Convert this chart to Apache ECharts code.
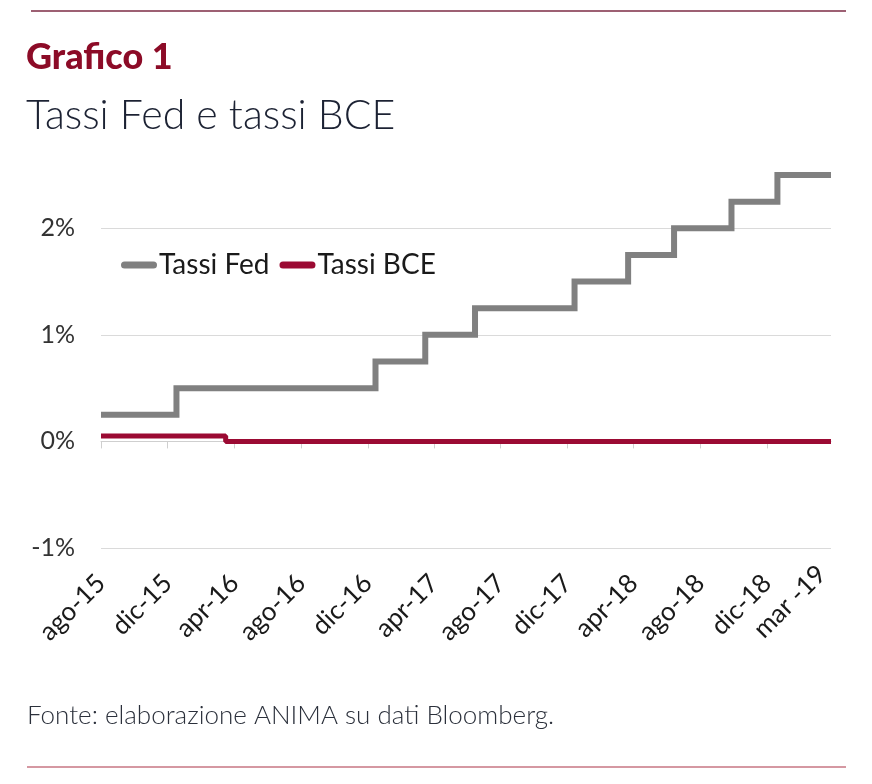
<!DOCTYPE html>
<html>
<head>
<meta charset="utf-8">
<script src="https://cdn.jsdelivr.net/npm/echarts@6/dist/echarts.min.js"></script>
<style>
html,body{margin:0;padding:0;background:#fff;}
#chart{width:872px;height:784px;}
</style>
</head>
<body>
<div id="chart"></div>
<script>
// ---- data ----
const fedDates = ['2015-08-01','2015-12-17','2016-12-15','2017-03-16','2017-06-15','2017-12-14','2018-03-22','2018-06-14','2018-09-27','2018-12-20','2019-03-28'];
const fedValues = [0.25, 0.5, 0.75, 1.0, 1.25, 1.5, 1.75, 2.0, 2.25, 2.5, 2.5];
const bceDates = ['2015-08-01','2016-03-16','2019-03-28'];
const bceValues = [0.05, 0.0, 0.0];
const tickDates = ['2015-08-01','2015-12-01','2016-04-01','2016-08-01','2016-12-01','2017-04-01','2017-08-01','2017-12-01','2018-04-01','2018-08-01','2018-12-01'];
const tickLabels = ['ago-15','dic-15','apr-16','ago-16','dic-16','apr-17','ago-17','dic-17','apr-18','ago-18','dic-18'];
const lastLabelDate = '2019-03-28';
const lastLabel = 'mar -19';
const axisStart = '2015-08-01';
const axisEnd = '2019-03-28';
const seriesNames = ['Tassi Fed','Tassi BCE'];

function ts(s){ return new Date(s + 'T00:00:00').getTime(); }
const labelTimes = tickDates.map(ts).concat([ts(lastLabelDate)]);
const labelTexts = tickLabels.concat([lastLabel]);

const chart = echarts.init(document.getElementById('chart'));
const FONT = 'Lato, "Open Sans", sans-serif';

function labelFor(v) {
  let best = 0, bd = Infinity;
  for (let i = 0; i < labelTimes.length; i++) {
    const d = Math.abs(labelTimes[i] - v);
    if (d < bd) { bd = d; best = i; }
  }
  return best === labelTimes.length - 1 ? labelTexts[best] + '\n ' : labelTexts[best];
}

chart.setOption({
  animation: false,
  backgroundColor: '#ffffff',
  textStyle: { fontFamily: FONT },
  title: [
    { text: 'Grafico 1', left: 21, top: 34,
      textStyle: { fontFamily: FONT, fontSize: 36, fontWeight: 900, color: '#8c0b27' } },
    { text: 'Tassi Fed e tassi BCE', left: 21, top: 90,
      textStyle: { fontFamily: FONT, fontSize: 41, fontWeight: 300, color: '#1c2233' } },
    { text: 'Fonte: elaborazione ANIMA su dati Bloomberg.', left: 22, top: 698,
      textStyle: { fontFamily: FONT, fontSize: 26, fontWeight: 300, color: '#2b303b' } }
  ],
  graphic: [
    { type: 'line', shape: { x1: 31, y1: 11, x2: 846, y2: 11 }, style: { stroke: '#7d2b45', lineWidth: 1.5 } },
    { type: 'line', shape: { x1: 27, y1: 767, x2: 846, y2: 767 }, style: { stroke: '#c77683', lineWidth: 1.5 } }
  ],
  legend: {
    left: 116, top: 246,
    itemWidth: 36, itemHeight: 7, itemGap: 10,
    icon: 'path://M3.5,0 H32.5 A3.5,3.5 0 0 1 32.5,7 H3.5 A3.5,3.5 0 0 1 3.5,0 Z',
    textStyle: { fontFamily: FONT, fontSize: 28, color: '#1a1a1a', padding: [0,0,0,-3] },
    data: seriesNames
  },
  grid: { left: 101, right: 41, top: 175, bottom: 236 },
  xAxis: [
    {
      type: 'value', min: ts(axisStart), max: ts(axisEnd),
      axisLine: { show: true, onZero: true, lineStyle: { color: '#cfcfcf', width: 1 } },
      axisTick: { show: true, length: 7, customValues: tickDates.map(ts), lineStyle: { color: '#cfcfcf' } },
      axisLabel: { show: false },
      splitLine: { show: false }
    },
    {
      type: 'value', min: ts(axisStart), max: ts(axisEnd), position: 'bottom',
      axisLine: { show: false, onZero: false },
      axisTick: { show: false },
      splitLine: { show: false },
      axisLabel: {
        show: true, rotate: 45, margin: 31,
        fontFamily: FONT, fontSize: 26, color: '#1a1a1a',
        customValues: labelTimes,
        hideOverlap: false,
        formatter: labelFor
      }
    }
  ],
  yAxis: {
    type: 'value', min: -1, max: 2.5, interval: 1,
    axisLine: { show: false },
    axisTick: { show: false },
    axisLabel: { fontFamily: FONT, fontSize: 25, color: '#333333', margin: 26,
      formatter: '{value}%', showMaxLabel: false },
    splitLine: { show: true, showMaxLine: false, lineStyle: { color: '#dadada', width: 1 } }
  },
  series: [
    {
      name: seriesNames[0], type: 'line', step: 'end', symbol: 'none', clip: false,
      xAxisIndex: 0,
      lineStyle: { color: '#808080', width: 6, cap: 'butt', join: 'miter' },
      itemStyle: { color: '#808080' },
      data: fedDates.map((d, i) => [ts(d), fedValues[i]])
    },
    {
      name: seriesNames[1], type: 'line', step: 'end', symbol: 'none', clip: false,
      xAxisIndex: 0,
      lineStyle: { color: '#9b0a33', width: 5 },
      itemStyle: { color: '#9b0a33' },
      data: bceDates.map((d, i) => [ts(d), bceValues[i]])
    }
  ]
});
</script>
</body>
</html>
